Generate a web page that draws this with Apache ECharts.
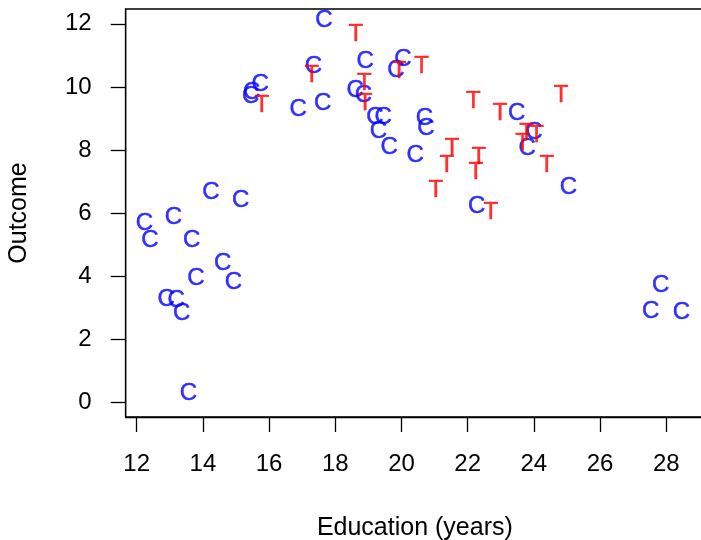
<!DOCTYPE html>
<html>
<head>
<meta charset="utf-8">
<script src="https://cdn.jsdelivr.net/npm/echarts@6/dist/echarts.min.js"></script>
<style>html,body{margin:0;padding:0;background:#fff}#c{width:701px;height:540px}</style>
</head>
<body>
<div id="c"></div>
<script>
// Control group (C) points: [education, outcome]
var controlX = [17.66,18.90,17.34,15.73,15.47,15.44,16.88,17.62,18.60,18.85,19.20,19.45,19.30,19.63,20.04,19.83,20.69,20.74,20.41,23.48,24.00,23.80,25.04,22.27,14.24,15.14,12.23,12.40,13.11,13.66,14.60,14.92,13.79,12.89,13.19,13.36,13.56,27.83,27.53,28.46];
var controlY = [12.16,10.88,10.70,10.14,9.88,9.75,9.36,9.53,9.96,9.80,9.11,9.11,8.64,8.16,10.94,10.59,9.06,8.76,7.88,9.22,8.61,8.11,6.89,6.29,6.71,6.45,5.73,5.20,5.94,5.20,4.46,3.86,3.98,3.32,3.30,2.87,0.34,3.77,2.95,2.93];
// Treatment group (T) points
var treatX = [18.62,17.29,15.78,18.88,18.90,19.93,20.61,22.17,22.98,24.82,24.08,23.78,23.66,21.53,21.37,22.34,22.25,21.04,24.39,22.70];
var treatY = [11.73,10.43,9.48,10.17,9.53,10.54,10.70,9.59,9.22,9.80,8.53,8.58,8.27,8.11,7.58,7.84,7.35,6.79,7.58,6.10];
var xTicks = [12,14,16,18,20,22,24,26,28];
var yTicks = [0,2,4,6,8,10,12];

function pairs(xs, ys){ return xs.map(function(v,i){ return [v, ys[i]]; }); }

var FONT = 'Liberation Sans';
var FS = 24;
var chart = echarts.init(document.getElementById('c'), null, {renderer:'canvas'});
function letterSeries(name, data, letter, color){
  return {
    name: name, type: 'scatter', data: data, symbolSize: 0, silent: true,
    label: { show: true, position: 'inside', formatter: letter, color: color, offset: [0, 2],
             textBorderColor: color, textBorderWidth: 0.5,
             fontFamily: FONT, fontSize: FS, align: 'center', verticalAlign: 'middle' },
    itemStyle: { color: color }
  };
}
chart.setOption({
  animation: false,
  backgroundColor: '#fff',
  grid: { left: 125.7, top: 9, bottom: 123, right: -3, containLabel: false, outerBoundsMode: 'none',
          show: true, borderColor: '#000', borderWidth: 1.3, backgroundColor: 'transparent' },
  xAxis: {
    type: 'value', min: 11.668, max: 29.14,
    name: 'Education (years)', nameLocation: 'middle', nameGap: 99,
    nameTextStyle: { fontFamily: FONT, fontSize: 25, color: '#000' },
    splitLine: { show: false },
    axisLine: { show: true, onZero: false, lineStyle: { color: '#000', width: 1.3 } },
    axisTick: { show: true, inside: false, length: 15, lineStyle: { color: '#000', width: 1.3 }, customValues: xTicks },
    axisLabel: { fontFamily: FONT, fontSize: FS, color: '#000', margin: 35, customValues: xTicks, showMinLabel: true, showMaxLabel: true }
  },
  yAxis: {
    type: 'value', min: -0.466, max: 12.47,
    name: 'Outcome', nameLocation: 'middle', nameGap: 94,
    nameTextStyle: { fontFamily: FONT, fontSize: 25, color: '#000' },
    splitLine: { show: false },
    axisLine: { show: true, onZero: false, lineStyle: { color: '#000', width: 1.3 } },
    axisTick: { show: true, inside: false, length: 15, lineStyle: { color: '#000', width: 1.3 }, customValues: yTicks },
    axisLabel: { fontFamily: FONT, fontSize: FS, color: '#000', margin: 34, customValues: yTicks }
  },
  series: [
    letterSeries('Control', pairs(controlX, controlY), 'C', '#0000FF'),
    letterSeries('Treatment', pairs(treatX, treatY), 'T', '#FF0000')
  ]
});
</script>
</body>
</html>
